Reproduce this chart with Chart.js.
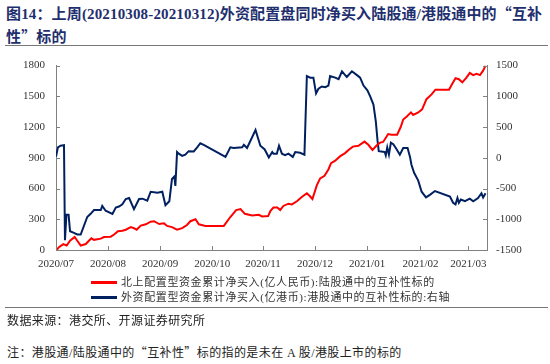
<!DOCTYPE html>
<html>
<head>
<meta charset="utf-8">
<script src="https://cdn.jsdelivr.net/npm/chart.js@4.4.1/dist/chart.umd.min.js"></script>
<style>
  html, body { margin: 0; padding: 0; background: #fff; }
  body { width: 550px; height: 364px; position: relative; overflow: hidden;
         font-family: "Liberation Serif", "Noto Sans CJK SC", serif; }
  #title { position: absolute; left: 6px; top: 2px; width: 545px; font-size: 15px; font-weight: bold;
           line-height: 22px; color: #1f2f6e; white-space: nowrap; letter-spacing: 0.15px; }
  .q { font-family: "Noto Sans CJK SC"; }
  .rule { position: absolute; left: 5px; width: 543px; height: 1px; background: #777; }
  #chartBox { position: absolute; left: 0; top: 48px; width: 550px; height: 230px; }
  .leg { position: absolute; left: 91px; height: 14px; font-size: 11px; letter-spacing: 0.6px;
         color: #333; white-space: nowrap; line-height: 14px; }
  .leg i { display: inline-block; width: 26px; height: 2.5px; vertical-align: middle; margin-right: 4px;
           position: relative; top: -1px; }
  .foot { position: absolute; left: 7px; font-size: 12px; letter-spacing: 0.4px; color: #222;
          white-space: nowrap; line-height: 16px; }
</style>
</head>
<body>
<div id="title">图14：上周(20210308-20210312)外资配置盘同时净买入陆股通/港股通中的<span class="q">“</span>互补<br>性<span class="q">”</span>标的</div>
<div class="rule" style="top:45px"></div>
<div id="chartBox"><canvas id="c" width="550" height="230"></canvas></div>
<div class="leg" id="leg1" style="top:275px"></div>
<div class="leg" id="leg2" style="top:290px"></div>
<div class="rule" style="top:307px"></div>
<div class="foot" style="top:313px">数据来源：港交所、开源证券研究所</div>
<div class="foot" style="top:344px">注：港股通/陆股通中的<span class="q">“</span>互补性<span class="q">”</span>标的指的是未在 A 股/港股上市的标的</div>
<script>
// ---- data (x = trading-day index since 2020/07/01) ----
const monthLabels = ['2020/07','2020/08','2020/09','2020/10','2020/11','2020/12','2021/01','2021/02','2021/03'];
const monthStartDay = [0, 21.5, 43, 64.5, 85.5, 107, 128.5, 150.5, 170.3];
const lastDay = 178;

const northName = '北上配置型资金累计净买入(亿人民币):陆股通中的互补性标的';
const southName = '外资配置型资金累计净买入(亿港币):港股通中的互补性标的:右轴';

const northDays = [0.3,1.2,3.0,4.4,5.8,7.7,8.8,10.2,12.3,13.6,14.6,15.7,18.5,19.8,22.6,24.0,25.6,27.4,28.8,30.9,32.2,33.3,35.0,37.1,39.1,40.5,42.6,44.6,45.9,47.9,50.0,52.1,54.1,55.5,57.6,59.0,61.7,69.3,72.0,74.4,76.2,78.0,81.0,83.8,85.1,87.6,88.6,89.8,91.4,92.6,93.9,96.0,97.4,99.5,101.5,103.6,104.7,105.9,107.7,109.1,110.9,112.5,113.6,115.3,117.4,119.4,120.8,122.6,124.9,127.4,129.0,130.7,132.5,133.9,135.1,137.2,138.6,140.9,142.4,143.4,145.0,146.6,147.5,149.6,151.2,153.0,155.1,156.7,162.3,163.6,165.0,166.4,167.8,169.5,170.9,172.3,173.7,175.1,176.4,177.4];
const northValues = [0,28,58,44,90,127,90,44,58,90,114,99,111,127,130,151,183,188,198,223,213,198,238,251,276,281,253,260,235,223,198,213,244,281,300,251,235,235,322,390,399,353,337,343,328,331,383,415,415,390,430,452,445,476,517,554,529,498,631,699,724,786,847,872,916,946,977,1009,1018,1058,1027,977,1023,1048,1055,1132,1126,1126,1203,1274,1305,1343,1318,1343,1373,1472,1519,1565,1565,1621,1677,1667,1636,1682,1729,1707,1719,1707,1751,1800];

const southDays = [0.0,0.8,1.9,3.3,3.7,4.3,5.2,5.8,7.4,8.8,10.2,12.9,14.3,15.7,18.5,19.1,20.5,23.3,24.7,26.0,27.4,28.8,30.2,32.2,34.3,35.7,37.7,39.1,41.9,43.9,45.2,46.8,47.9,48.9,49.3,50.0,50.7,52.1,53.4,54.8,56.9,58.3,59.6,61.0,70.0,72.0,73.4,76.9,77.6,78.9,82.4,84.4,86.2,87.9,89.3,89.8,91.2,92.1,93.3,94.6,96.0,97.8,98.8,100.8,102.6,103.6,105.0,106.3,107.4,108.4,109.8,111.2,112.5,113.2,115.3,116.7,118.1,120.1,122.2,124.3,125.6,127.0,128.6,129.8,131.1,132.1,132.8,133.3,134.4,135.8,136.2,136.8,137.5,138.3,139.3,140.6,142.0,143.4,145.2,146.2,146.8,147.9,149.6,151.0,152.8,154.4,156.5,162.7,164.0,165.0,165.8,166.4,167.2,168.9,170.9,172.3,174.3,175.7,176.4,177.4];
const southValues = [20,170,196,206,-1340,-928,-928,-1195,-1222,-1248,-1248,-963,-912,-850,-850,-784,-861,-912,-809,-793,-758,-670,-654,-835,-670,-665,-696,-552,-567,-552,-773,-707,-345,-305,-459,93,67,31,51,108,104,170,237,212,15,170,159,170,212,159,453,196,135,5,93,67,67,196,67,42,67,15,93,82,51,1330,1304,1304,1047,1124,1160,1149,1175,1330,1304,1279,1407,1314,1407,1345,1304,1175,1098,994,866,583,274,108,104,93,42,170,51,247,221,144,51,159,159,15,-113,-243,-371,-552,-645,-603,-541,-629,-731,-758,-654,-731,-680,-707,-665,-707,-654,-577,-645,-577];

const leftTicks = { min: 0, max: 1800, step: 300 };
const rightTicks = { min: -1500, max: 1500, step: 500 };

const RED = '#FF0000', NAVY = '#002060', AXIS = '#808080';

document.getElementById('leg1').innerHTML = '<i style="background:' + RED + '"></i>' + northName;
document.getElementById('leg2').innerHTML = '<i style="background:' + NAVY + '"></i>' + southName;

const toPts = (xs, ys) => xs.map((x, i) => ({ x: x, y: ys[i] }));

const insideTicks = {
  id: 'insideTicks',
  afterDatasetsDraw(chart) {
    const { ctx, chartArea: a, scales } = chart;
    ctx.save();
    ctx.strokeStyle = AXIS; ctx.lineWidth = 1;
    ctx.beginPath();
    scales.y.ticks.forEach(t => { const y = Math.round(scales.y.getPixelForValue(t.value)) + 0.5; ctx.moveTo(a.left, y); ctx.lineTo(a.left + 4, y); });
    scales.y1.ticks.forEach(t => { const y = Math.round(scales.y1.getPixelForValue(t.value)) + 0.5; ctx.moveTo(a.right, y); ctx.lineTo(a.right - 4, y); });
    scales.x.ticks.forEach(t => { const x = Math.round(scales.x.getPixelForValue(t.value)) + 0.5; ctx.moveTo(x, a.bottom); ctx.lineTo(x, a.bottom - 4); });
    ctx.stroke();
    ctx.restore();
  }
};

Chart.defaults.font.family = "'Liberation Serif', 'Times New Roman', serif";
Chart.defaults.font.size = 11;
Chart.defaults.color = '#333';

new Chart(document.getElementById('c'), {
  type: 'line',
  data: {
    datasets: [
      { label: northName, data: toPts(northDays, northValues), yAxisID: 'y', borderColor: RED, borderWidth: 2, pointRadius: 0, tension: 0, fill: false },
      { label: southName, data: toPts(southDays, southValues), yAxisID: 'y1', borderColor: NAVY, borderWidth: 2, pointRadius: 0, tension: 0, fill: false }
    ]
  },
  options: {
    responsive: false,
    animation: false,
    layout: { padding: { top: 8, left: 0, right: 0, bottom: 0 } },
    plugins: { legend: { display: false }, tooltip: { enabled: false } },
    scales: {
      x: {
        type: 'linear', min: 0, max: lastDay,
        afterBuildTicks: s => { s.ticks = monthStartDay.map(v => ({ value: v })); },
        afterFit: s => { s.height = 28; },
        ticks: { autoSkip: false, maxRotation: 0, padding: 8, callback: (v, i) => monthLabels[i] },
        grid: { display: false, drawTicks: false },
        border: { display: true, color: AXIS, width: 1 }
      },
      y: {
        position: 'left', min: leftTicks.min, max: leftTicks.max,
        afterFit: s => { s.width = 56; },
        ticks: { stepSize: leftTicks.step, padding: 11, callback: v => String(v) },
        grid: { display: false, drawTicks: false },
        border: { display: true, color: AXIS, width: 1 }
      },
      y1: {
        position: 'right', min: rightTicks.min, max: rightTicks.max,
        afterFit: s => { s.width = 63; },
        ticks: { stepSize: rightTicks.step, padding: 9, callback: v => String(v) },
        grid: { display: false, drawTicks: false },
        border: { display: true, color: AXIS, width: 1 }
      }
    }
  },
  plugins: [insideTicks]
});
</script>
</body>
</html>
